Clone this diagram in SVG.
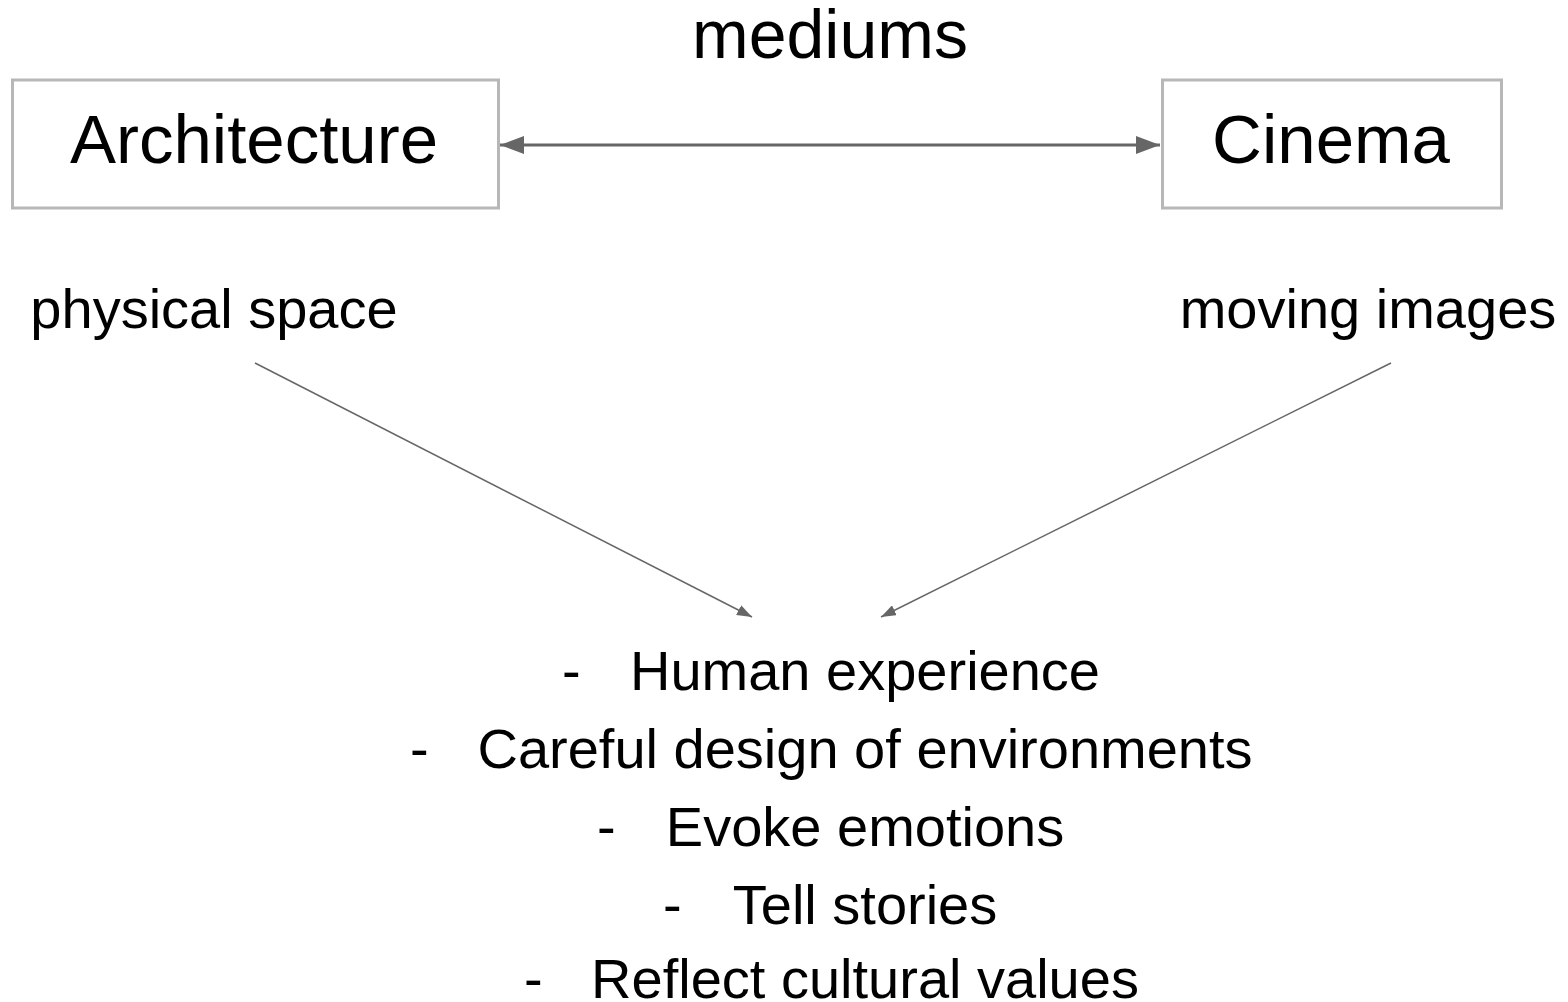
<svg xmlns="http://www.w3.org/2000/svg" width="1568" height="1002" viewBox="0 0 1568 1002">
  <style>
    .t { font-family: "Liberation Sans", Arial, sans-serif; fill: #000; }
    .box { fill: #fff; stroke: #b7b7b7; stroke-width: 3; }
    .big { font-size: 69px; }
    .mid { font-size: 56px; }
    .link { stroke: #666; fill: none; }
  </style>
  <defs>
    <marker id="headBig" viewBox="0 0 24 18" refX="24" refY="9" markerWidth="24" markerHeight="18" markerUnits="userSpaceOnUse" orient="auto-start-reverse">
      <path d="M0,0 L24,9 L0,18 z" fill="#666"/>
    </marker>
    <marker id="headSmall" viewBox="0 0 15 11" refX="15" refY="5.5" markerWidth="15" markerHeight="11" markerUnits="userSpaceOnUse" orient="auto">
      <path d="M0,0 L15,5.5 L0,11 z" fill="#666"/>
    </marker>
  </defs>
  <rect width="1568" height="1002" fill="#fff"/>

  <g id="label-mediums">
    <text class="t" x="830" y="58" font-size="68" text-anchor="middle">mediums</text>
  </g>

  <g id="node-architecture">
    <rect class="box" x="12.5" y="80" width="486" height="128"/>
    <text class="t big" x="254" y="163" text-anchor="middle">Architecture</text>
  </g>

  <g id="node-cinema">
    <rect class="box" x="1162.5" y="80" width="339" height="128"/>
    <text class="t big" x="1331" y="163" text-anchor="middle">Cinema</text>
  </g>

  <g id="label-physical-space">
    <text class="t mid" x="214" y="328" text-anchor="middle">physical space</text>
  </g>

  <g id="label-moving-images">
    <text class="t mid" x="1368" y="328" text-anchor="middle">moving images</text>
  </g>

  <g id="node-shared">
    <text class="t mid" x="562" y="690">-</text>
    <text class="t mid" x="865" y="690" text-anchor="middle">Human experience</text>
    <text class="t mid" x="410" y="768">-</text>
    <text class="t mid" x="865" y="768" text-anchor="middle">Careful design of environments</text>
    <text class="t mid" x="597" y="846">-</text>
    <text class="t mid" x="865" y="846" text-anchor="middle">Evoke emotions</text>
    <text class="t mid" x="663" y="924">-</text>
    <text class="t mid" x="865" y="924" text-anchor="middle">Tell stories</text>
    <text class="t mid" x="524" y="998">-</text>
    <text class="t mid" x="865" y="998" text-anchor="middle">Reflect cultural values</text>
  </g>

  <g id="connectors">
    <line class="link" x1="500" y1="145" x2="1160" y2="145" stroke-width="3" marker-start="url(#headBig)" marker-end="url(#headBig)"/>
    <line class="link" x1="255" y1="363" x2="752" y2="617" stroke-width="1.5" marker-end="url(#headSmall)"/>
    <line class="link" x1="1391" y1="363" x2="881" y2="617" stroke-width="1.5" marker-end="url(#headSmall)"/>
  </g>
</svg>
